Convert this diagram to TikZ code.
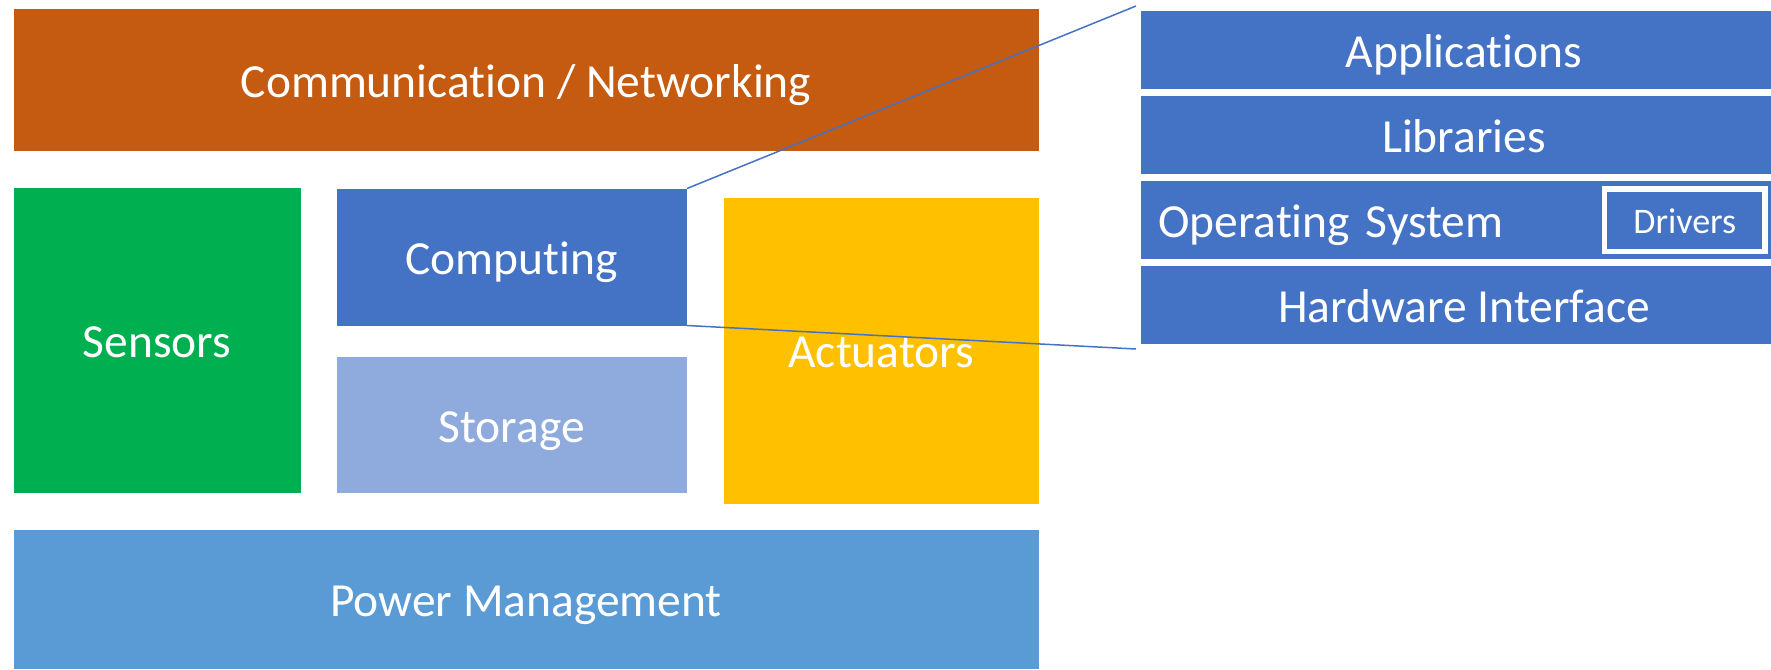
\documentclass[tikz,border=0pt]{standalone}
\usepackage{fontspec}
\setmainfont{Carlito}[Ligatures=NoCommon]
\usepackage{tikz}
\usepackage{xcolor}
\usetikzlibrary{positioning}
\definecolor{commorange}{HTML}{C55A11}
\definecolor{sensgreen}{HTML}{00B050}
\definecolor{compblue}{HTML}{4472C4}
\definecolor{storeblue}{HTML}{8FAADC}
\definecolor{actyellow}{HTML}{FFC000}
\definecolor{powerblue}{HTML}{5B9BD5}
\newcommand{\blockfont}{\fontsize{47.5}{57}\selectfont}
\newcommand{\driverfont}{\fontsize{36}{43}\selectfont}
\tikzset{
  % A coloured block of the device
  block/.style={
    fill=#1, draw=none, text=white, align=center, font=\blockfont,
    text height=40pt, text depth=6pt, inner sep=0pt, outer sep=0pt},
  % A layer of the software stack
  layer/.style={
    block=compblue, minimum width=646pt, minimum height=78pt},
  % The framed box inside a layer
  innerbox/.style={
    draw=white, line width=5.5pt, text=white, font=\driverfont,
    text height=30pt, text depth=4pt,
    inner sep=0pt, minimum width=160.5pt, minimum height=62.5pt},
  % Lines that open up the computing block
  zoomline/.style={draw=compblue, line width=1.5pt},
}

\begin{document}
\begin{tikzpicture}[x=1pt, y=-1pt]
\useasboundingbox (0,0) rectangle (1771,669);

% the device
\node[block=commorange, minimum width=1025pt, minimum height=142pt] (comm) at (526,80)
  {Communication / Networking};
\node[block=sensgreen, minimum width=287pt, minimum height=305pt] (sensors) at (157,340.5)
  {Sensors};
\node[block=compblue, minimum width=350.5pt, minimum height=137pt] (computing) at (511.75,257)
  {Computing};
\node[block=storeblue, minimum width=350.5pt, minimum height=136pt] (storage) at (511.75,425)
  {Storage};
\node[block=actyellow, minimum width=314.5pt, minimum height=305.5pt] (actuators) at (881.25,350.75)
  {Actuators};
\node[block=powerblue, minimum width=1025pt, minimum height=139pt] (power) at (526,599.5)
  {Power Management};

% the software stack of the computing block
\node[layer, anchor=north west] (apps) at (1141,11) {Applications};
\node[layer, below=7pt of apps] (libs) {Libraries};
\node[layer, below=7pt of libs, inner xsep=17pt, text width=612pt, align=left] (os)
  {Operating System};
\node[layer, below=7pt of os] (hw) {Hardware Interface};

\node[innerbox] (drivers) at (1684.75,220.25) {Drivers};

\coordinate (zoomtop) at (1136,6);
\coordinate (zoombot) at (1136,349);
\draw[zoomline] (computing.north east) -- (zoomtop);
\draw[zoomline] (computing.south east) -- (zoombot);

\end{tikzpicture}
\end{document}
